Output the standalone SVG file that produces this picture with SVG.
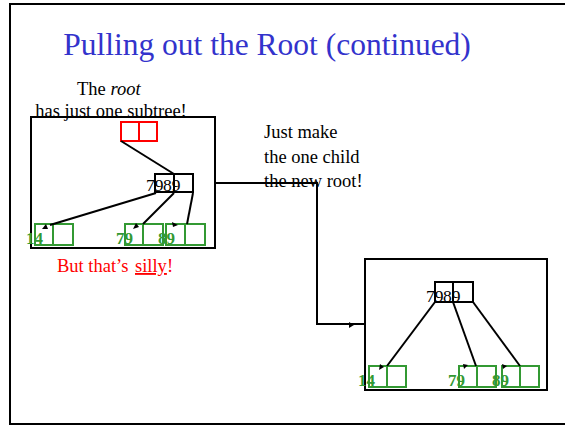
<svg xmlns="http://www.w3.org/2000/svg" width="565" height="426" viewBox="0 0 565 426">
<style>
.frame{fill:none;stroke:#000;stroke-width:2}
.box{fill:none;stroke:#000;stroke-width:2}
.red{fill:none;stroke:#ff0000;stroke-width:2}
.blk{fill:none;stroke:#000;stroke-width:2}
.grn{fill:none;stroke:#339933;stroke-width:2}
.ln{fill:none;stroke:#000;stroke-width:2}
.ah{fill:#000}
.t{font-family:"Liberation Serif","Times New Roman",serif;font-size:18.5px;fill:#000}
.k{font-family:"Liberation Serif","Times New Roman",serif;font-size:17.5px;fill:#000}
.g{font-family:"Liberation Serif","Times New Roman",serif;font-size:17px;font-weight:bold;fill:#339933}
</style>
<rect class="frame" x="10" y="4" width="620" height="420"/>
<text x="267" y="55" text-anchor="middle" font-family="Liberation Serif, Times New Roman, serif" font-size="31.5" fill="#3333cc">Pulling out the Root (continued)</text>

<g id="caption-root">
<text class="t" x="77" y="95">The <tspan font-style="italic">root</tspan></text>
<text class="t" x="111" y="117" text-anchor="middle">has just one subtree!</text>
</g>

<g id="left-box"><rect class="box" x="31" y="117" width="184" height="131"/></g>
<g id="left-root"><rect class="red" x="121" y="122" width="18" height="19"/><rect class="red" x="139" y="122" width="18" height="19"/></g>
<g id="left-child"><rect class="blk" x="155" y="174" width="19" height="18"/><rect class="blk" x="174" y="174" width="19" height="18"/><text class="k" x="146" y="191">79</text><text class="k" x="163" y="191">89</text></g>
<g id="left-leaf14"><rect class="grn" x="35" y="224" width="18" height="21"/><rect class="grn" x="53" y="224" width="20" height="21"/><text class="g" x="26" y="244">14</text></g>
<g id="left-leaf79"><rect class="grn" x="125" y="224" width="18" height="21"/><rect class="grn" x="143" y="224" width="20" height="21"/><text class="g" x="116" y="244">79</text></g>
<g id="left-leaf89"><rect class="grn" x="166" y="224" width="19" height="21"/><rect class="grn" x="185" y="224" width="20" height="21"/><text class="g" x="158" y="244">89</text></g>

<g id="caption-silly">
<text x="57" y="272" font-family="Liberation Serif, Times New Roman, serif" font-size="18.5" fill="#ff0000">But that’s <tspan x="135" text-decoration="underline">silly</tspan>!</text>
</g>

<g id="caption-just">
<text class="t" x="264" y="138">Just make</text>
<text class="t" x="264" y="163">the one child</text>
<text class="t" x="264" y="187">the new root!</text>
</g>

<g id="right-box"><rect class="box" x="365" y="259" width="182" height="131"/></g>
<g id="right-root"><rect class="blk" x="435" y="282" width="18" height="20"/><rect class="blk" x="453" y="282" width="20" height="20"/><text class="k" x="426" y="302">79</text><text class="k" x="443" y="302">89</text></g>
<g id="right-leaf14"><rect class="grn" x="369" y="366" width="18" height="21"/><rect class="grn" x="387" y="366" width="19" height="21"/><text class="g" x="358" y="386">14</text></g>
<g id="right-leaf79"><rect class="grn" x="459" y="366" width="18" height="21"/><rect class="grn" x="477" y="366" width="19" height="21"/><text class="g" x="448" y="386">79</text></g>
<g id="right-leaf89"><rect class="grn" x="502" y="366" width="18" height="21"/><rect class="grn" x="520" y="366" width="19" height="21"/><text class="g" x="492" y="386">89</text></g>

<g id="connectors">
<line class="ln" x1="121" y1="141" x2="174" y2="174"/>
<line class="ln" x1="156" y1="193" x2="50" y2="225"/>
<polygon class="ah" points="42,229 46,224 48,229"/>
<line class="ln" x1="174" y1="193" x2="143" y2="224"/>
<polygon class="ah" points="133,229 136,223 139,227"/>
<line class="ln" x1="193" y1="193" x2="187" y2="224"/>
<polygon class="ah" points="178,225 172,222 173,227"/>
<polyline class="ln" points="215,183 317,183 317,324 365,324"/>
<polygon class="ah" points="354,325 349,322 349,328"/>
<line class="ln" x1="435" y1="302" x2="387" y2="366"/>
<polygon class="ah" points="379,370 380,364 384,367"/>
<line class="ln" x1="453" y1="302" x2="476" y2="366"/>
<polygon class="ah" points="464,369 463,364 468,365"/>
<line class="ln" x1="473" y1="302" x2="520" y2="366"/>
<polygon class="ah" points="503,369 502,364 507,366"/>
</g>
</svg>
